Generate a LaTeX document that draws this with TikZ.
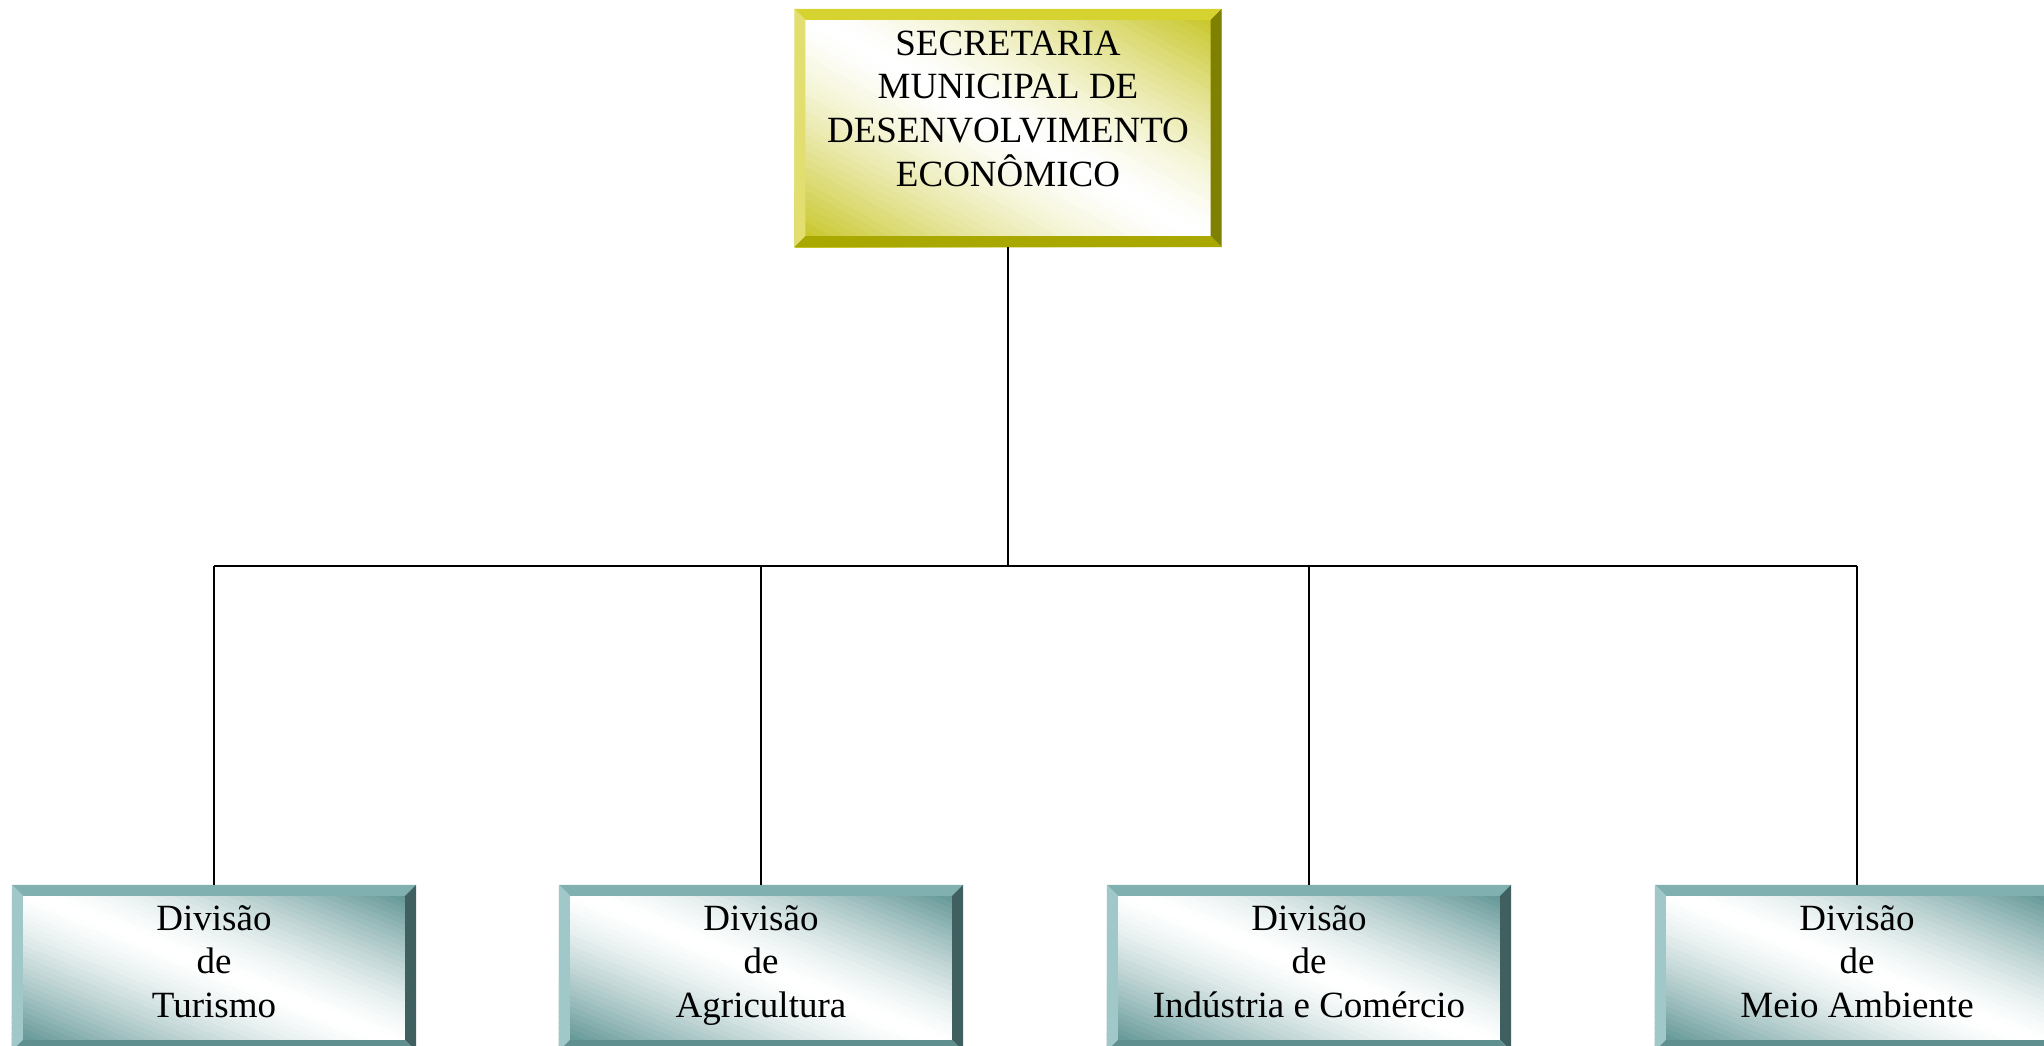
\documentclass[tikz,border=0pt]{standalone}
\usepackage{fontspec}
\setmainfont{Liberation Serif}
\usetikzlibrary{calc}
\definecolor{goldface}{RGB}{200,198,40}
\definecolor{goldtop}{RGB}{214,210,48}
\definecolor{goldleft}{RGB}{226,222,112}
\definecolor{goldright}{RGB}{128,128,0}
\definecolor{goldbottom}{RGB}{168,168,0}
\definecolor{tealface}{RGB}{92,146,146}
\definecolor{tealtop}{RGB}{128,176,176}
\definecolor{tealleft}{RGB}{160,200,200}
\definecolor{tealright}{RGB}{64,96,96}
\definecolor{tealbottom}{RGB}{95,143,143}
% diagonal gradient: face colour at bottom-left and top-right corners, white along the other diagonal
\newcommand\mygradient[4]{% #1 node, #2 width, #3 height, #4 colour
  \begin{scope}[shift={(#1.south west)}, x=#2, y=#3]
    \clip (0,0) rectangle (1,1);
    \foreach \i in {0,...,59}{
      \pgfmathsetmacro\ca{2*\i/60}
      \pgfmathsetmacro\cb{2*(\i+1.3)/60}
      \pgfmathtruncatemacro\pct{min(100,110*abs(2*(\i+0.5)/60-1)^1.4)}
      \fill[#4!\pct!white] (\ca+1,-1) -- (-1,\ca+1) -- (-1,\cb+1) -- (\cb+1,-1) -- cycle;
    }
  \end{scope}
}
\newcommand\mybevels[6]{%
  \fill[#3] (#1.north west) -- (#1.north east) -- ($(#1.north east)+(-#2,#2)$) -- ($(#1.north west)+(#2,#2)$) -- cycle;
  \fill[#4] (#1.north west) -- ($(#1.north west)+(#2,#2)$) -- ($(#1.south west)+(#2,-#2)$) -- (#1.south west) -- cycle;
  \fill[#5] (#1.north east) -- ($(#1.north east)+(-#2,#2)$) -- ($(#1.south east)+(-#2,-#2)$) -- (#1.south east) -- cycle;
  \fill[#6] (#1.south west) -- ($(#1.south west)+(#2,-#2)$) -- ($(#1.south east)+(-#2,-#2)$) -- (#1.south east) -- cycle;
}
\begin{document}
\begin{tikzpicture}[x=1pt,y=-1pt,
  goldbox/.style={rectangle, inner sep=0pt, minimum width=427pt, minimum height=238pt},
  tealbox/.style={rectangle, inner sep=0pt, minimum width=404pt, minimum height=166pt},
  boxtext/.style={anchor=base, inner sep=0pt, font=\fontsize{37}{43.5}\selectfont},
  conn/.style={draw=black, line width=2pt}]
\useasboundingbox (0,0) rectangle (2044,1045);
\clip (0,0) rectangle (2044,1045);
\fill[white] (0,0) rectangle (2044,1045);

\node[goldbox] (top) at (1008,128) {};
\mygradient{top}{427pt}{238pt}{goldface}
\mybevels{top}{11}{goldtop}{goldleft}{goldright}{goldbottom}
\node[boxtext] (toptext) at (1008,55) {\begin{tabular}[t]{@{}c@{}}SECRETARIA\\MUNICIPAL DE\\DESENVOLVIMENTO\\ECONÔMICO\end{tabular}};

\node[tealbox] (d1) at (214,968) {};
\node[tealbox] (d2) at (761,968) {};
\node[tealbox] (d3) at (1309,968) {};
\node[tealbox] (d4) at (1857,968) {};
\foreach \n in {d1,d2,d3,d4}{
  \mygradient{\n}{404pt}{166pt}{tealface}
  \mybevels{\n}{11}{tealtop}{tealleft}{tealright}{tealbottom}
}
\node[boxtext] (t1) at (214,930) {\begin{tabular}[t]{@{}c@{}}Divisão\\de\\Turismo\end{tabular}};
\node[boxtext] (t2) at (761,930) {\begin{tabular}[t]{@{}c@{}}Divisão\\de\\Agricultura\end{tabular}};
\node[boxtext] (t3) at (1309,930) {\begin{tabular}[t]{@{}c@{}}Divisão\\de\\Indústria e Comércio\end{tabular}};
\node[boxtext] (t4) at (1857,930) {\begin{tabular}[t]{@{}c@{}}Divisão\\de\\Meio Ambiente\end{tabular}};

\coordinate (bus) at (1008,566);
\draw[conn] (top.south) -- (top.south |- bus);
\draw[conn] (d1.north |- bus) -- (d4.north |- bus);
\draw[conn] (d1.north |- bus) -- (d1.north);
\draw[conn] (d2.north |- bus) -- (d2.north);
\draw[conn] (d3.north |- bus) -- (d3.north);
\draw[conn] (d4.north |- bus) -- (d4.north);
\end{tikzpicture}
\end{document}
